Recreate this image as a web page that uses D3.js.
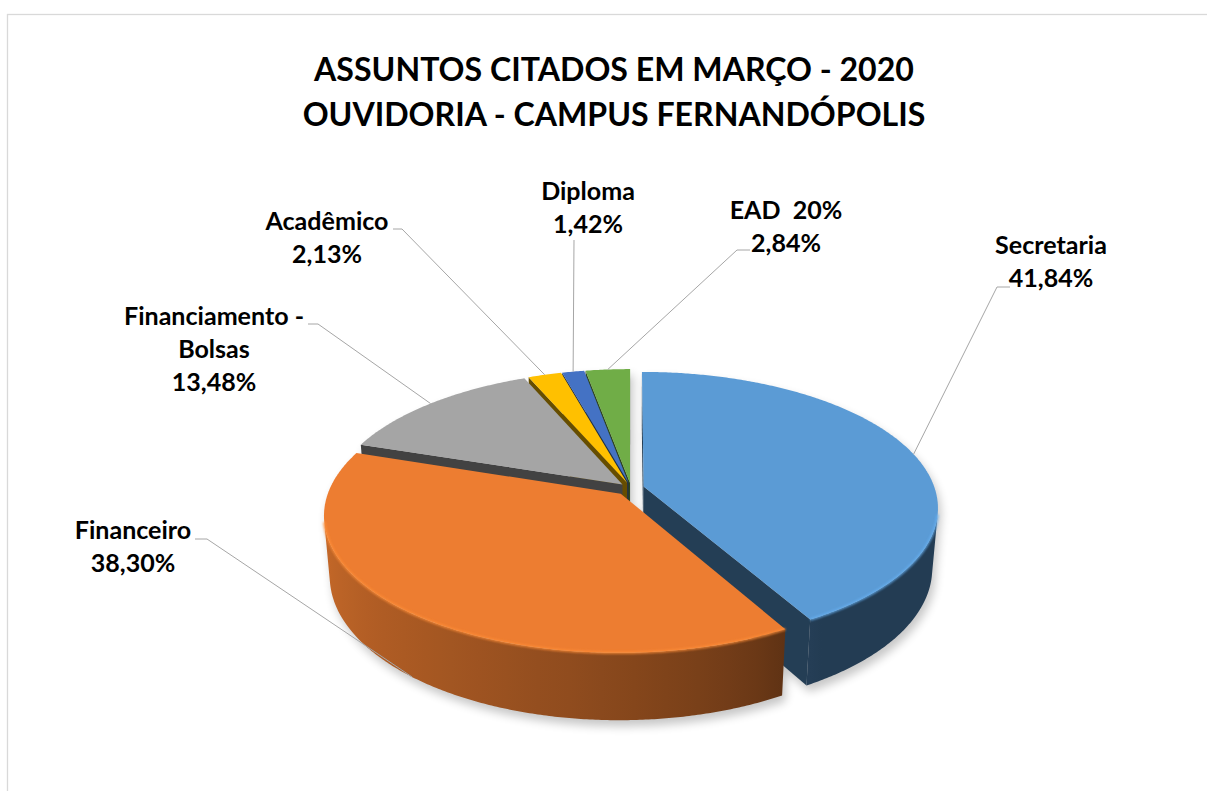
<!DOCTYPE html>
<html><head><meta charset="utf-8">
<script src="https://cdn.jsdelivr.net/npm/d3@7"></script>
<style>
html,body{margin:0;padding:0;background:#fff;}
svg{display:block;}
text{font-family:Lato,'Open Sans',sans-serif;font-weight:700;fill:#000;white-space:pre;}
</style>
</head><body>
<svg id="chart" width="1207" height="791"></svg>
<script>
// ---- data ----
const categories = ["Secretaria","Financeiro","Financiamento - Bolsas","Acadêmico","Diploma","EAD  20%"];
const values = [41.84, 38.30, 13.48, 2.13, 1.42, 2.84];
const valueLabels = ["41,84%","38,30%","13,48%","2,13%","1,42%","2,84%"];
const nameLines = [["Secretaria"],["Financeiro"],["Financiamento -","Bolsas"],["Acadêmico"],["Diploma"],["EAD  20%"]];
const titleLines = ["ASSUNTOS CITADOS EM MARÇO - 2020","OUVIDORIA - CAMPUS FERNANDÓPOLIS"];
const colors = ["#5b9bd5","#ed7d31","#a5a5a5","#ffc000","#4472c4","#70ad47"];

// ---- layout / style ----
const explode = [0.045,0.055,0.04,0.04,0.04,0.04];
const labelLayout = [
  {cx:1051, y:254, lead:[[1010,287],[997,287]]},
  {cx:133,  y:539, lead:[[195,539],[207,539]]},
  {cx:214,  y:325, lead:[[308,324],[318,324]]},
  {cx:327,  y:230, lead:[[393,229],[402,229]]},
  {cx:588,  y:200, lead:[[574,240]]},
  {cx:786,  y:219, lead:[[750,250],[737,250]]}
];
const lineH = 33;

const W = 1207, H = 791;
const svg = d3.select("#chart");
svg.append("rect").attr("width",W).attr("height",H).attr("fill","#fff");
svg.append("rect").attr("x",7.5).attr("y",14.5).attr("width",1300).attr("height",900)
  .attr("fill","none").attr("stroke","#d9d9d9").attr("stroke-width",1.3);

const defs = svg.append("defs");
defs.append("filter").attr("id","shadowBlur").attr("x","-20%").attr("y","-20%").attr("width","140%").attr("height","140%")
  .append("feGaussianBlur").attr("stdDeviation",5);
defs.append("filter").attr("id","soft").attr("x","-10%").attr("y","-10%").attr("width","120%").attr("height","120%")
  .append("feGaussianBlur").attr("stdDeviation",1.2);

// ---- 3D projection ----
const cam = {cx:631, cy:488, f:1679, d:5.77, s:0.456};
cam.c = Math.sqrt(1 - cam.s*cam.s);
const thick = 0.235;
function proj(X,Y,h){
  const yc = Y*cam.s + h*cam.c, zc = Y*cam.c - h*cam.s + cam.d;
  return [cam.cx + cam.f*X/zc, cam.cy - cam.f*yc/zc];
}

const pie = d3.pie().sort(null).value(d=>d.value).startAngle(0).endAngle(2*Math.PI);
const data = categories.map((c,i)=>({name:c, value:values[i], label:valueLabels[i], lines:nameLines[i],
  color:colors[i], explode:explode[i], layout:labelLayout[i]}));
const arcs = pie(data);
arcs.forEach(a=>{
  a.mid = (a.startAngle + a.endAngle)/2;
  a.ox = a.data.explode*Math.sin(a.mid);
  a.oy = a.data.explode*Math.cos(a.mid);
});
function pt(a,t,r,h){ return proj(a.ox + r*Math.sin(t), a.oy + r*Math.cos(t), h); }
function arcPts(a,t0,t1,h){
  const n = Math.max(2, Math.ceil(Math.abs(t1-t0)/(Math.PI/360)));
  const out = [];
  for(let i=0;i<=n;i++){ const t = t0 + (t1-t0)*i/n; out.push(pt(a,t,1,h)); }
  return out;
}
const lineGen = d3.line();
const poly = p => lineGen(p) + "Z";

function wallVisible(a,t){ return -a.ox*Math.sin(t) - (cam.d*cam.c + a.oy)*Math.cos(t) - 1 > 0; }
function wallRanges(a){
  const ranges=[]; const n=720; let cur=null;
  for(let i=0;i<=n;i++){
    const t = a.startAngle + (a.endAngle - a.startAngle)*i/n;
    const v = wallVisible(a,t);
    if(v && !cur) cur=[t,t];
    if(v && cur) cur[1]=t;
    if(!v && cur){ ranges.push(cur); cur=null; }
  }
  if(cur) ranges.push(cur);
  return ranges;
}
function startFaceVisible(a){ const t=a.startAngle; return a.ox*Math.cos(t) - (cam.d*cam.c + a.oy)*Math.sin(t) > 0; }
function endFaceVisible(a){ const t=a.endAngle; return -a.ox*Math.cos(t) + (cam.d*cam.c + a.oy)*Math.sin(t) > 0; }
function faceQuad(a,t){
  return [proj(a.ox,a.oy,0), pt(a,t,1,0), pt(a,t,1,-thick), proj(a.ox,a.oy,-thick)];
}
function shade(col,b){ const c=d3.rgb(col); return d3.rgb(c.r*b, c.g*b, c.b*b).formatHex(); }
function bright(t){
  const d = t*180/Math.PI;
  if(d<=150) return 0.39;
  if(d>=270) return 0.87;
  return 0.39 + 0.48*Math.pow((d-150)/120, 0.7);
}
function topPoly(a,h){ return [proj(a.ox,a.oy,h)].concat(arcPts(a,a.startAngle,a.endAngle,h)); }
function wallPoly(a,r){ return arcPts(a,r[0],r[1],0).concat(arcPts(a,r[1],r[0],-thick)); }

arcs.forEach(a=>{ a.ranges = wallRanges(a); });

// ---- shadow ----
const shadowG = svg.append("g").attr("filter","url(#shadowBlur)").attr("opacity",0.22)
  .attr("transform","translate(3,6)");
arcs.forEach(a=>{
  shadowG.append("path").attr("d",poly(topPoly(a,0))).attr("fill","#000");
  shadowG.append("path").attr("d",poly(topPoly(a,-thick))).attr("fill","#000");
  a.ranges.forEach(r=>shadowG.append("path").attr("d",poly(wallPoly(a,r))).attr("fill","#000"));
  shadowG.append("path").attr("d",poly(faceQuad(a,a.startAngle))).attr("fill","#000");
  shadowG.append("path").attr("d",poly(faceQuad(a,a.endAngle))).attr("fill","#000");
});

// ---- slices, back to front ----
const order = arcs.slice().sort((p,q)=>Math.cos(q.mid)-Math.cos(p.mid));
const pieG = svg.append("g");
let gid = 0;
order.forEach(a=>{
  const g = pieG.append("g");
  const dark = shade(a.data.color, 0.4);
  if(startFaceVisible(a)) g.append("path").attr("d",poly(faceQuad(a,a.startAngle))).attr("fill",dark);
  if(endFaceVisible(a)) g.append("path").attr("d",poly(faceQuad(a,a.endAngle))).attr("fill",dark);
  a.ranges.forEach(r=>{
    const id = "wg"+(gid++);
    const samples = d3.range(0,21).map(i=>{ const t=r[0]+(r[1]-r[0])*i/20; return {x:pt(a,t,1,0)[0], b:bright(t)}; });
    const xmin = d3.min(samples,d=>d.x), xmax = d3.max(samples,d=>d.x);
    const grad = defs.append("linearGradient").attr("id",id).attr("gradientUnits","userSpaceOnUse")
      .attr("x1",xmin).attr("x2",xmax).attr("y1",0).attr("y2",0);
    const sx = d3.scaleLinear().domain([xmin,xmax]).range([0,1]);
    samples.sort((p,q)=>p.x-q.x).forEach(s=>grad.append("stop").attr("offset",sx(s.x)).attr("stop-color",shade(a.data.color,s.b)));
    g.append("path").attr("d",poly(wallPoly(a,r))).attr("fill","url(#"+id+")");
  });
  g.append("path").attr("d",poly(topPoly(a,0))).attr("fill",a.data.color);
  // rim highlight along the visible front edge
  a.ranges.forEach(r=>{
    g.append("path").attr("d",lineGen(arcPts(a,r[0],r[1],0))).attr("fill","none")
      .attr("stroke",d3.color(a.data.color).brighter(0.35)).attr("stroke-width",2.5)
      .attr("filter","url(#soft)").attr("opacity",0.8);
  });
});

// ---- leader lines ----
const leadG = svg.append("g");
arcs.forEach(a=>{
  const anchor = Math.cos(a.mid) < 0 ? pt(a,a.mid,1,-thick) : pt(a,a.mid,1,0);
  const pts = a.data.layout.lead.concat([anchor]);
  leadG.append("path").attr("d",lineGen(pts)).attr("fill","none").attr("stroke","#a6a6a6").attr("stroke-width",1);
});

// ---- title ----
const titleG = svg.append("g");
const tTexts = titleLines.map((t,i)=>titleG.append("text").attr("x",614).attr("y",81+i*45)
  .attr("text-anchor","middle").style("font-size","36px").text(t));
const tw = tTexts[0].node().getComputedTextLength();
const tSize = 36*600/tw;
tTexts.forEach(t=>t.style("font-size",tSize+"px"));

// ---- labels ----
const labG = svg.append("g");
const probe = labG.append("text").style("font-size","26px").text("Financiamento -");
const lSize = 26*180/probe.node().getComputedTextLength();
probe.remove();
arcs.forEach(a=>{
  const L = a.data.layout;
  a.data.lines.concat([a.data.label]).forEach((s,i)=>{
    labG.append("text").attr("x",L.cx).attr("y",L.y+i*lineH).attr("text-anchor","middle")
      .style("font-size",lSize+"px").text(s);
  });
});
</script>
</body></html>
